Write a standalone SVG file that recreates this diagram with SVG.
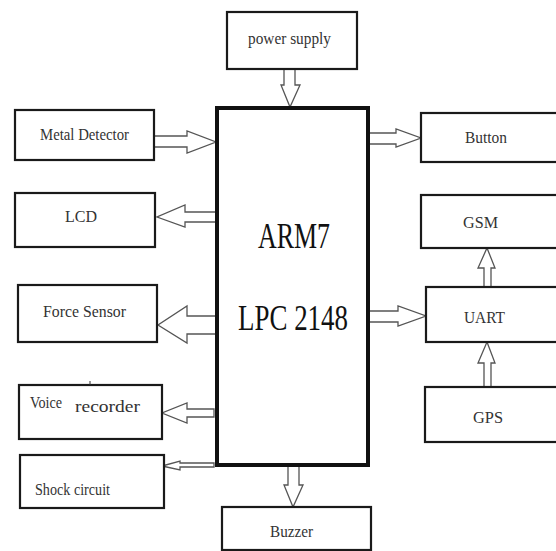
<svg xmlns="http://www.w3.org/2000/svg" width="556" height="551" viewBox="0 0 556 551">
<style>
.box{fill:#fff;stroke:#1a1a1a;stroke-width:2.2}
.main{fill:#fff;stroke:#111;stroke-width:4}
.arr{fill:#fff;stroke:#555;stroke-width:1.3;stroke-linejoin:miter}
.t{font-family:"Liberation Serif","Times New Roman",serif;font-size:17px;fill:#333}
.big{font-family:"Liberation Serif","Times New Roman",serif;font-size:35px;fill:#111}
</style>
<rect width="556" height="551" fill="#fff"/>
<g id="connectors">
<polygon class="arr" points="284,69 295,69 295,85 300,85 290,107 281,85 284,85"/>
<polygon class="arr" points="154,136 187,136 187,131 216,142 187,153 187,147 154,147"/>
<polygon class="arr" points="368,133 396,133 396,129 421,138 396,147 396,144 368,144"/>
<polygon class="arr" points="216,212 185,212 185,205 157,217 185,227 185,222 216,222"/>
<polygon class="arr" points="216,316 187,316 187,306 158,325 187,343 187,334 216,334"/>
<polygon class="arr" points="368,311 398,311 398,306 426,316 398,326 398,322 368,322"/>
<polygon class="arr" points="484,287 484,268 478,268 487,248 495,268 491,268 491,287"/>
<polygon class="arr" points="484,387 484,363 478,363 487,342 495,363 491,363 491,387"/>
<polygon class="arr" points="214,409 187,409 187,403 162,413 187,423 187,417 214,417"/>
<polygon class="arr" points="214,463 180,463 180,461 162,466 180,470 180,467 214,467"/>
<polygon class="arr" points="288,465 299,465 299,485 303,485 293,507 284,485 288,485"/>
</g>
<g id="arm7">
<rect class="main" x="217" y="108" width="151" height="357"/>
<text class="big" x="258" y="248" textLength="72" lengthAdjust="spacingAndGlyphs">ARM7</text>
<text class="big" x="238" y="330" textLength="110" lengthAdjust="spacingAndGlyphs">LPC 2148</text>
</g>
<g id="power-supply">
<rect class="box" x="227" y="12" width="130" height="57"/>
<text class="t" x="248" y="44" textLength="83" lengthAdjust="spacingAndGlyphs">power supply</text>
</g>
<g id="metal-detector">
<rect class="box" x="15" y="110" width="139" height="50"/>
<text class="t" x="40" y="140" textLength="89" lengthAdjust="spacingAndGlyphs">Metal Detector</text>
</g>
<g id="button">
<rect class="box" x="421" y="113" width="140" height="49"/>
<text class="t" x="465" y="143" textLength="42" lengthAdjust="spacingAndGlyphs">Button</text>
</g>
<g id="lcd">
<rect class="box" x="15" y="193" width="140" height="54"/>
<text class="t" x="65" y="222" textLength="32" lengthAdjust="spacingAndGlyphs">LCD</text>
</g>
<g id="gsm">
<rect class="box" x="421" y="195" width="140" height="53"/>
<text class="t" x="463" y="228" textLength="35" lengthAdjust="spacingAndGlyphs">GSM</text>
</g>
<g id="force-sensor">
<rect class="box" x="18" y="285" width="139" height="57"/>
<text class="t" x="43" y="317" textLength="83" lengthAdjust="spacingAndGlyphs">Force Sensor</text>
</g>
<g id="uart">
<rect class="box" x="426" y="287" width="135" height="55"/>
<text class="t" x="464" y="323" textLength="41" lengthAdjust="spacingAndGlyphs">UART</text>
</g>
<g id="gps">
<rect class="box" x="425" y="387" width="136" height="55"/>
<text class="t" x="473" y="423" textLength="30" lengthAdjust="spacingAndGlyphs">GPS</text>
</g>
<g id="voice-recorder">
<rect class="box" x="19" y="385" width="143" height="54"/>
<line x1="90" y1="381" x2="90" y2="385" stroke="#333" stroke-width="1"/>
<text class="t" x="30" y="408" textLength="32" lengthAdjust="spacingAndGlyphs">Voice</text>
<text class="t" x="75" y="412" font-size="19" fill="#1a1a40" textLength="65" lengthAdjust="spacingAndGlyphs">recorder</text>
</g>
<g id="shock-circuit">
<rect class="box" x="20" y="455" width="144" height="53"/>
<text class="t" x="35" y="495" textLength="75" lengthAdjust="spacingAndGlyphs">Shock circuit</text>
</g>
<g id="buzzer">
<rect class="box" x="222" y="507" width="149" height="43"/>
<text class="t" x="270" y="537" textLength="43" lengthAdjust="spacingAndGlyphs">Buzzer</text>
</g>
</svg>
